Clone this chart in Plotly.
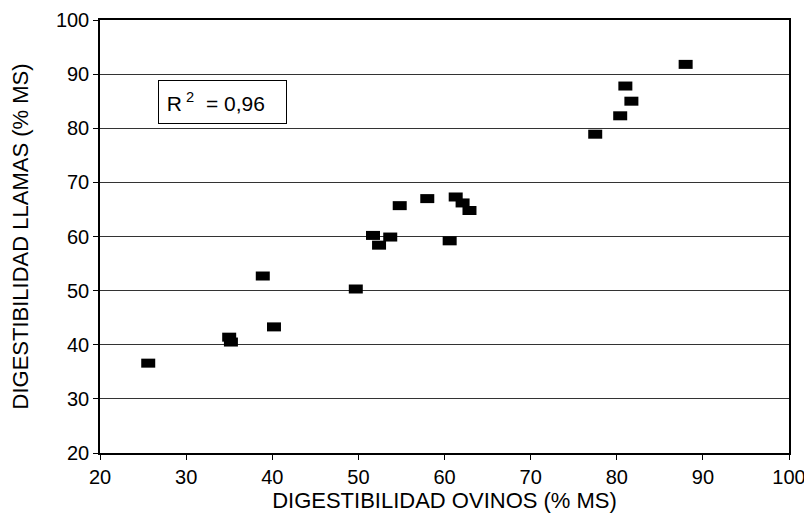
import plotly.graph_objects as go

ovinos = [25.6, 35.0, 35.2, 38.9, 40.2, 49.7, 51.7, 52.4, 53.7, 54.8, 58.0, 60.6, 61.3, 62.1, 62.9,
          77.5, 80.4, 81.0, 81.7, 88.0]
llamas = [36.6, 41.4, 40.5, 52.7, 43.3, 50.3, 60.2, 58.4, 59.9, 65.7, 67.0, 59.2, 67.3, 66.2, 64.8,
          78.9, 82.3, 87.8, 85.0, 91.8]
tick_vals = [20, 30, 40, 50, 60, 70, 80, 90, 100]
x_title = "DIGESTIBILIDAD OVINOS (% MS)"
y_title = "DIGESTIBILIDAD LLAMAS (% MS)"
r2_text = "&nbsp;R<sup>&nbsp;2</sup>&nbsp;&nbsp;=&nbsp;0,96"

FONT = "Liberation Sans, Arial, Helvetica, sans-serif"

fig = go.Figure()
fig.add_trace(go.Scatter(
    x=ovinos, y=llamas, mode="markers",
    marker=dict(symbol="line-ew", size=10, color="black",
                line=dict(color="black", width=9)),
    showlegend=False, hoverinfo="x+y",
))

fig.add_annotation(
    x=34.2, y=84.85, xref="x", yref="y", text=r2_text, showarrow=False,
    font=dict(family=FONT, size=21, color="black"),
    bordercolor="black", borderwidth=1, borderpad=2,
    width=123, height=38, bgcolor="white", align="left",
)

axis_common = dict(
    range=[20, 100], tickvals=tick_vals, ticks="outside",
    tickcolor="black", linecolor="black", linewidth=1.5, mirror=True,
    showline=True, zeroline=False,
    tickfont=dict(family=FONT, size=20, color="black"),
)

fig.update_xaxes(**axis_common, ticklen=5, showgrid=False,
                 title=dict(text=x_title, font=dict(family=FONT, size=22, color="black"), standoff=1))
fig.update_yaxes(**axis_common, ticklen=5, showgrid=True, gridcolor="#333333", gridwidth=1,
                 title=dict(text=y_title, font=dict(family=FONT, size=22, color="black"), standoff=23))

# page body has an 8px default margin; compensate so the plot area lands at x 100-789, y 20-453
fig.update_layout(
    width=812, height=513,
    margin=dict(l=92, r=31, t=12, b=68, autoexpand=False),
    plot_bgcolor="white", paper_bgcolor="white",
    font=dict(family=FONT, color="black"),
)

fig.write_html("out.html")
